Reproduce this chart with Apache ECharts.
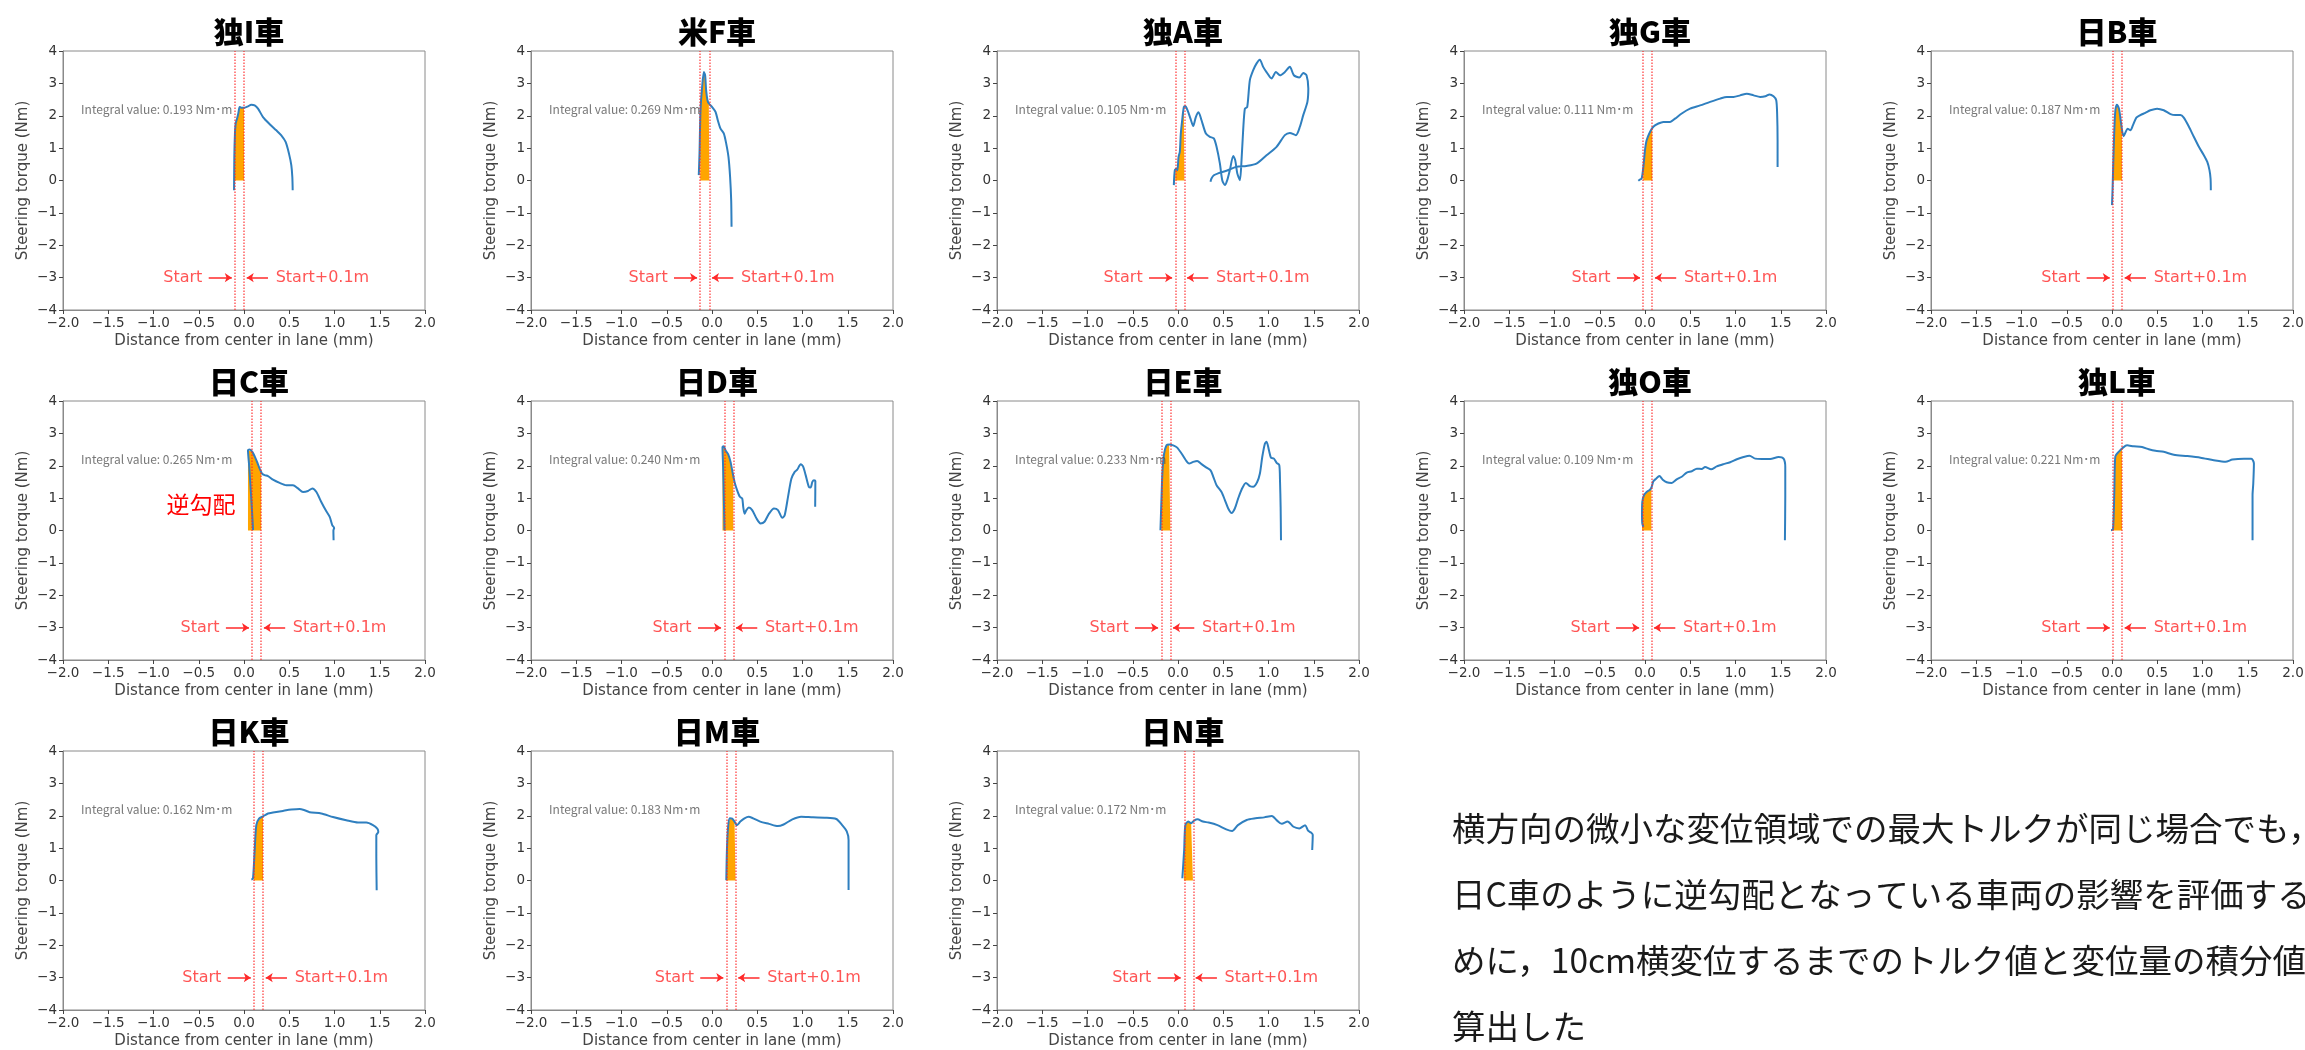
<!DOCTYPE html>
<html><head><meta charset="utf-8">
<script src="https://cdn.jsdelivr.net/npm/echarts@6/dist/echarts.min.js"></script>
<style>html,body{margin:0;padding:0;background:#fff}#c{width:2305px;height:1050px}</style>
</head><body><div id="c"></div>
<script>
// ---------------- DATA ----------------
const cars = ['独I車','米F車','独A車','独G車','日B車','日C車','日D車','日E車','独O車','独L車','日K車','日M車','日N車'];
const integrals = ['0.193','0.269','0.105','0.111','0.187','0.265','0.240','0.233','0.109','0.221','0.162','0.183','0.172'];
const starts = [-0.10, -0.13, -0.03, -0.02, 0.01, 0.09, 0.135, -0.185, -0.03, 0.01, 0.11, 0.16, 0.065];
const xTicks = [-2.0,-1.5,-1.0,-0.5,0.0,0.5,1.0,1.5,2.0];
const yTicks = [-4,-3,-2,-1,0,1,2,3,4];

const curveI = [[-0.11,-0.3],[-0.107,0.73],[-0.1,1.45],[-0.092,1.76],[-0.077,1.91],[-0.063,2.07],[-0.048,2.27],[-0.03,2.25],[0.007,2.25],[0.044,2.29],[0.08,2.34],[0.118,2.32],[0.155,2.22],[0.21,1.96],[0.284,1.74],[0.357,1.55],[0.41,1.4],[0.46,1.19],[0.497,0.83],[0.523,0.47],[0.534,0.11],[0.538,-0.3]];
const curveF = [[-0.146,0.165],[-0.138,0.83],[-0.127,2.17],[-0.109,2.89],[-0.09,3.35],[-0.076,3.25],[-0.065,2.79],[-0.05,2.48],[-0.035,2.38],[0.002,2.27],[0.039,2.12],[0.064,1.86],[0.094,1.6],[0.131,1.45],[0.157,1.14],[0.182,0.73],[0.2,0.11],[0.212,-0.61],[0.216,-1.43]];
const curveA = [[-0.046,-0.144],[-0.035,0.32],[-0.017,0.37],[-0.006,0.32],[0.006,0.73],[0.02,0.88],[0.031,1.45],[0.046,1.86],[0.065,2.27],[0.083,2.29],[0.105,2.17],[0.138,1.91],[0.168,1.68],[0.197,1.96],[0.227,2.11],[0.26,1.86],[0.308,1.45],[0.352,1.35],[0.396,1.3],[0.426,1.04],[0.463,0.52],[0.489,0.01],[0.518,-0.14],[0.544,0.01],[0.573,0.32],[0.61,0.76],[0.632,0.63],[0.655,0.22],[0.684,0.01],[0.702,0.63],[0.72,1.55],[0.739,2.22],[0.765,2.27],[0.794,3.1],[0.83,3.4],[0.867,3.61],[0.904,3.73],[0.941,3.51],[0.978,3.35],[1.034,3.15],[1.082,3.35],[1.126,3.25],[1.181,3.35],[1.236,3.51],[1.28,3.25],[1.34,3.18],[1.384,3.32],[1.42,3.25],[1.44,2.84],[1.43,2.43],[1.384,2.02],[1.347,1.66],[1.303,1.4],[1.236,1.47],[1.181,1.4],[1.089,1.04],[0.978,0.78],[0.867,0.52],[0.756,0.45],[0.645,0.42],[0.535,0.3],[0.443,0.22],[0.396,0.16],[0.37,0.06],[0.359,-0.04]];
const curveG = [[-0.074,-0.01],[-0.055,0.03],[-0.037,0.06],[-0.018,0.42],[0.0,0.94],[0.018,1.24],[0.055,1.5],[0.092,1.66],[0.148,1.76],[0.203,1.81],[0.277,1.81],[0.332,1.91],[0.406,2.07],[0.498,2.22],[0.609,2.32],[0.72,2.43],[0.83,2.53],[0.904,2.58],[0.978,2.58],[1.052,2.63],[1.125,2.68],[1.2,2.63],[1.273,2.58],[1.33,2.6],[1.376,2.66],[1.42,2.6],[1.45,2.48],[1.46,2.07],[1.465,1.24],[1.465,0.42]];
const curveB = [[0.0,-0.76],[0.007,-0.2],[0.018,0.94],[0.03,1.86],[0.04,2.22],[0.055,2.34],[0.077,2.22],[0.096,1.86],[0.114,1.5],[0.129,1.37],[0.151,1.5],[0.173,1.6],[0.203,1.55],[0.232,1.71],[0.269,1.94],[0.314,2.02],[0.369,2.09],[0.424,2.17],[0.498,2.22],[0.572,2.17],[0.646,2.05],[0.7,2.02],[0.756,2.02],[0.793,1.94],[0.85,1.66],[0.904,1.35],[0.96,1.04],[1.015,0.78],[1.052,0.58],[1.077,0.32],[1.089,0.06],[1.092,-0.3]];
const curveC = [[0.1,0.01],[0.088,0.63],[0.07,1.45],[0.055,2.07],[0.044,2.48],[0.063,2.5],[0.092,2.43],[0.118,2.29],[0.144,2.12],[0.173,1.91],[0.199,1.76],[0.228,1.71],[0.265,1.68],[0.32,1.57],[0.394,1.47],[0.468,1.4],[0.541,1.4],[0.597,1.3],[0.652,1.19],[0.707,1.22],[0.755,1.3],[0.8,1.19],[0.854,0.88],[0.902,0.63],[0.947,0.42],[0.976,0.16],[0.996,0.08],[0.988,0.0],[0.99,-0.3]];
const curveD = [[0.138,0.01],[0.131,0.94],[0.123,1.96],[0.116,2.58],[0.131,2.6],[0.149,2.48],[0.179,2.35],[0.205,2.12],[0.226,1.81],[0.249,1.5],[0.278,1.24],[0.308,1.04],[0.334,0.99],[0.345,0.73],[0.36,0.52],[0.38,0.63],[0.407,0.71],[0.444,0.63],[0.492,0.37],[0.536,0.22],[0.58,0.27],[0.63,0.52],[0.685,0.68],[0.729,0.63],[0.777,0.39],[0.803,0.47],[0.84,1.04],[0.877,1.6],[0.914,1.81],[0.942,1.88],[0.98,2.05],[1.006,1.98],[1.035,1.71],[1.07,1.35],[1.09,1.33],[1.109,1.5],[1.127,1.55],[1.142,1.53],[1.14,0.73]];
const curveE = [[-0.194,0.01],[-0.182,1.04],[-0.171,1.86],[-0.153,2.38],[-0.127,2.63],[-0.098,2.66],[-0.053,2.63],[-0.009,2.56],[0.039,2.38],[0.087,2.17],[0.123,2.07],[0.168,2.12],[0.212,2.15],[0.26,2.05],[0.315,1.94],[0.36,1.86],[0.39,1.66],[0.426,1.4],[0.481,1.19],[0.518,0.94],[0.555,0.68],[0.592,0.54],[0.628,0.68],[0.665,0.99],[0.702,1.26],[0.75,1.47],[0.794,1.37],[0.831,1.35],[0.875,1.5],[0.905,1.76],[0.931,2.27],[0.96,2.68],[0.979,2.74],[1.005,2.48],[1.027,2.25],[1.06,2.22],[1.09,2.09],[1.119,2.02],[1.127,1.55],[1.134,0.73],[1.138,-0.3]];
const curveO = [[-0.018,0.11],[-0.03,0.22],[-0.033,0.52],[-0.03,0.88],[-0.011,1.09],[0.018,1.19],[0.055,1.26],[0.074,1.35],[0.092,1.52],[0.122,1.6],[0.159,1.68],[0.196,1.57],[0.24,1.49],[0.295,1.47],[0.35,1.58],[0.406,1.66],[0.461,1.79],[0.517,1.83],[0.572,1.91],[0.627,1.9],[0.664,1.96],[0.73,1.89],[0.793,1.98],[0.867,2.05],[0.941,2.11],[1.015,2.2],[1.089,2.27],[1.155,2.31],[1.218,2.22],[1.292,2.21],[1.384,2.21],[1.476,2.27],[1.531,2.22],[1.55,1.96],[1.55,1.04],[1.546,-0.3]];
const curveL = [[-0.011,0.01],[0.011,0.03],[0.026,1.24],[0.037,2.29],[0.074,2.43],[0.122,2.56],[0.166,2.63],[0.24,2.6],[0.332,2.58],[0.406,2.51],[0.48,2.46],[0.572,2.43],[0.683,2.34],[0.83,2.3],[0.978,2.25],[1.125,2.17],[1.255,2.12],[1.33,2.19],[1.458,2.22],[1.539,2.22],[1.568,2.07],[1.561,1.45],[1.553,1.09],[1.553,-0.3]];
const curveK = [[0.081,0.03],[0.099,0.06],[0.118,0.94],[0.136,1.71],[0.166,1.91],[0.21,1.98],[0.265,2.07],[0.32,2.1],[0.43,2.15],[0.523,2.19],[0.615,2.21],[0.67,2.17],[0.726,2.11],[0.854,2.07],[0.983,1.96],[1.13,1.86],[1.26,1.79],[1.352,1.79],[1.425,1.71],[1.473,1.6],[1.484,1.5],[1.462,1.4],[1.462,0.73],[1.466,-0.3]];
const curveM = [[0.158,0.01],[0.165,0.94],[0.178,1.66],[0.197,1.92],[0.223,1.91],[0.249,1.82],[0.275,1.71],[0.313,1.82],[0.359,1.92],[0.404,1.97],[0.455,1.92],[0.533,1.82],[0.63,1.75],[0.727,1.68],[0.791,1.73],[0.888,1.89],[0.985,1.97],[1.115,1.95],[1.244,1.94],[1.373,1.9],[1.438,1.71],[1.49,1.51],[1.509,1.25],[1.509,0.63],[1.509,-0.29]];
const curveN = [[0.048,0.07],[0.068,0.94],[0.081,1.71],[0.113,1.82],[0.145,1.77],[0.178,1.85],[0.216,1.89],[0.275,1.82],[0.339,1.79],[0.436,1.71],[0.533,1.58],[0.598,1.53],[0.662,1.71],[0.759,1.87],[0.856,1.92],[0.953,1.95],[1.037,1.99],[1.095,1.85],[1.147,1.75],[1.211,1.82],[1.276,1.66],[1.34,1.61],[1.405,1.71],[1.437,1.54],[1.47,1.48],[1.489,1.41],[1.483,0.94]];
const curves = [curveI,curveF,curveA,curveG,curveB,curveC,curveD,curveE,curveO,curveL,curveK,curveM,curveN];

const noteLines = [
  '横方向の微小な変位領域での最大トルクが同じ場合でも，',
  '日C車のように逆勾配となっている車両の影響を評価するた',
  'めに，10cm横変位するまでのトルク値と変位量の積分値を',
  '算出した'
];
const reverseLabel = '逆勾配';

// ---------------- LAYOUT ----------------
const JP = '"Noto Sans CJK JP", "Noto Sans", sans-serif';
const MPL = '"DejaVu Sans", sans-serif';
const colLeft = [63, 531, 997, 1464, 1931];
const rowTop = [51, 401, 751];
const PW = 362, PH = 259;
const RED = '#ff2a2a';

function minus(v){ return String(v).replace('-', '\u2212'); }

// area under curve between start and start+0.1 (derived from the curve itself)
function fillArea(curve, s){
  const e = s + 0.1;
  const seg = [];
  let begun = false;
  for (let i = 0; i < curve.length; i++){
    const p = curve[i];
    if (!begun){
      if (p[0] >= s){
        begun = true;
        if (i > 0 && curve[i-1][0] < s){
          const q = curve[i-1], t = (s - q[0])/(p[0]-q[0]);
          seg.push([s, q[1] + t*(p[1]-q[1])]);
        }
      } else continue;
    }
    if (p[0] >= e && seg.length){
      const q = seg[seg.length-1];
      if (p[0] > q[0]){
        const t = (e - q[0])/(p[0]-q[0]);
        seg.push([e, q[1] + t*(p[1]-q[1])]);
      } else seg.push(p);
      break;
    }
    seg.push(p);
  }
  let k = 0;
  for (let i = 1; i < seg.length; i++) if (seg[i][0] < seg[k][0]) k = i;
  const pts = seg.slice(k).map(p => [p[0], Math.max(p[1], 0)]);
  return [[pts[0][0], 0]].concat(pts, [[pts[pts.length-1][0], 0]]);
}

const grids = [], xAxes = [], yAxes = [], titles = [], series = [];
cars.forEach((name, i) => {
  const r = Math.floor(i/5), c = i%5;
  const left = colLeft[c], top = rowTop[r];
  const s = starts[i], e = s + 0.1;
  grids.push({left, top, width: PW, height: PH, show: true, borderColor: '#8a8a8a', borderWidth: 1, backgroundColor: 'transparent', outerBoundsMode: 'none', containLabel: false});
  titles.push({text: name, left: left + PW/2, top: top - 24, textAlign: 'center', textVerticalAlign: 'middle',
    textStyle: {fontFamily: JP, fontSize: 30, fontWeight: 900, color: '#000'}});
  xAxes.push({type: 'value', gridIndex: i, min: xTicks[0], max: xTicks[xTicks.length-1], interval: xTicks[1]-xTicks[0],
    axisLine: {show: true, onZero: false, lineStyle: {color: '#8a8a8a', width: 1}},
    axisTick: {show: true, inside: false, length: 4, lineStyle: {color: '#444'}},
    axisLabel: {fontFamily: MPL, fontSize: 13.5, color: '#333', margin: 6, formatter: v => minus(v.toFixed(1))},
    splitLine: {show: false},
    name: 'Distance from center in lane (mm)', nameLocation: 'middle', nameGap: 24,
    nameTextStyle: {fontFamily: MPL, fontSize: 15, color: '#444'}});
  yAxes.push({type: 'value', gridIndex: i, min: yTicks[0], max: yTicks[yTicks.length-1], interval: yTicks[1]-yTicks[0],
    axisLine: {show: true, onZero: false, lineStyle: {color: '#8a8a8a', width: 1}},
    axisTick: {show: true, inside: false, length: 4, lineStyle: {color: '#444'}},
    axisLabel: {fontFamily: MPL, fontSize: 13.5, color: '#333', margin: 6, formatter: v => minus(v)},
    splitLine: {show: false},
    name: 'Steering torque (Nm)', nameLocation: 'middle', nameGap: 32, nameRotate: 90,
    nameTextStyle: {fontFamily: MPL, fontSize: 15, color: '#444'}});
  // orange integral area + start lines
  series.push({type: 'line', xAxisIndex: i, yAxisIndex: i, data: fillArea(curves[i], s), showSymbol: false, symbol: 'none',
    lineStyle: {width: 0}, areaStyle: {color: '#ffa500', opacity: 1, origin: 0}, silent: true, z: 2,
    markLine: {silent: true, symbol: ['none','none'], label: {show: false},
      lineStyle: {color: 'rgba(255,40,40,0.75)', type: 'dotted', width: 1.5},
      data: [{xAxis: s}, {xAxis: e}]}});
  // measured curve
  series.push({type: 'line', xAxisIndex: i, yAxisIndex: i, data: curves[i], showSymbol: false, symbol: 'none', smooth: 0.25,
    lineStyle: {color: '#2f7fbf', width: 2}, silent: true, z: 3});
  // arrows
  series.push({type: 'lines', coordinateSystem: 'cartesian2d', xAxisIndex: i, yAxisIndex: i, silent: true, z: 4,
    symbol: ['none','arrow'], symbolSize: 7,
    lineStyle: {color: RED, width: 1.5, opacity: 1},
    data: [{coords: [[s-0.29, -3], [s-0.035, -3]]}, {coords: [[e+0.265, -3], [e+0.03, -3]]}]});
  // text labels
  series.push({type: 'scatter', xAxisIndex: i, yAxisIndex: i, symbolSize: 1, silent: true, z: 5,
    itemStyle: {color: 'transparent'},
    label: {show: true, position: 'inside', verticalAlign: 'middle'},
    data: [
      {value: [s-0.36, -3], label: {formatter: 'Start', align: 'right', fontSize: 16, color: RED, fontFamily: MPL}},
      {value: [e+0.35, -3], label: {formatter: 'Start+0.1m', align: 'left', fontSize: 16, color: RED, fontFamily: MPL}},
      {value: [-1.8, 2.2], label: {formatter: 'Integral value: ' + integrals[i] + ' Nm\uFF65m', align: 'left', fontSize: 12, color: '#555', fontFamily: JP}}
    ]});
});

const chart = echarts.init(document.getElementById('c'), null, {renderer: 'canvas'});
chart.setOption({
  animation: false,
  backgroundColor: '#fff',
  title: titles,
  grid: grids, xAxis: xAxes, yAxis: yAxes, series: series,
  graphic: [
    {type: 'text', left: 1452, top: 795, silent: true,
      style: {text: noteLines.join('\n'), font: '33.5px ' + JP, fill: '#1a1a1a', lineHeight: 66}},
    {type: 'text', x: 201, y: 504, silent: true,
      style: {text: reverseLabel, font: '23px ' + JP, fill: '#ff0000', align: 'center', verticalAlign: 'middle'}}
  ]
});
</script>
</body></html>
